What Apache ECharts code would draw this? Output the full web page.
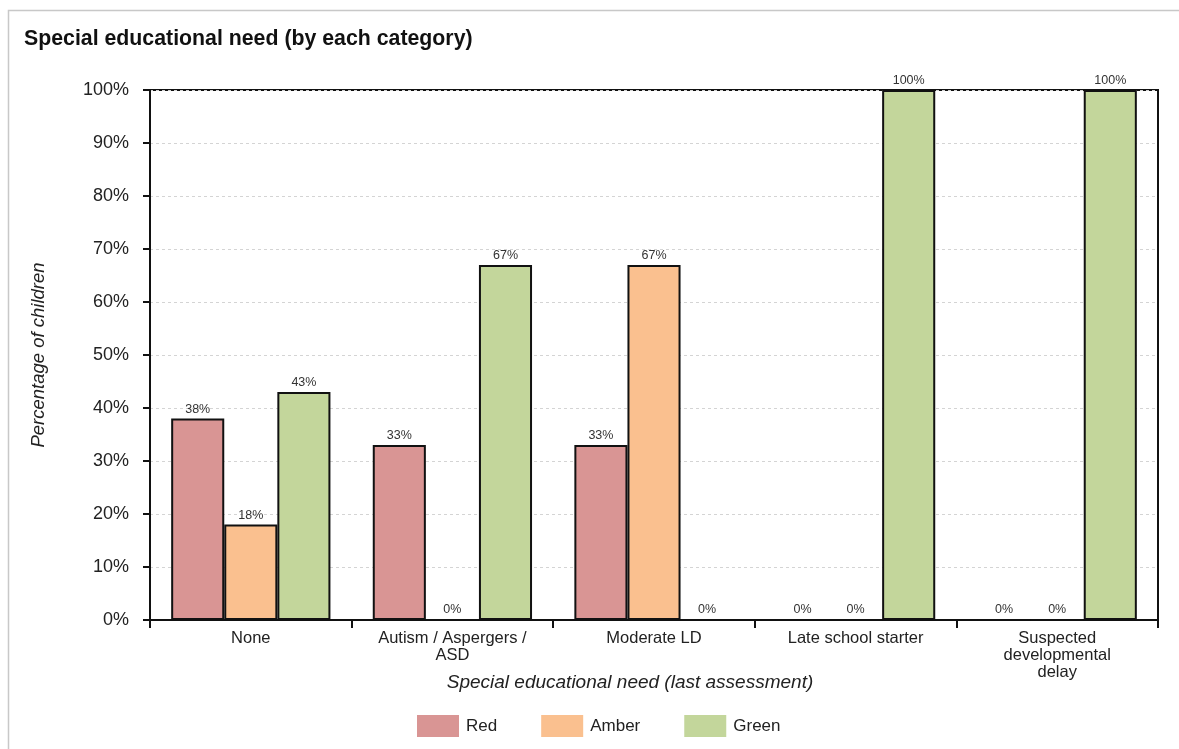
<!DOCTYPE html>
<html>
<head>
<meta charset="utf-8">
<script src="https://cdn.jsdelivr.net/npm/echarts@6/dist/echarts.min.js"></script>
<style>
  html, body { margin: 0; padding: 0; background: #fff; }
  #chart { width: 1179px; height: 749px; }
</style>
</head>
<body>
<div id="chart"></div>
<script>
// Special educational need categories and RAG percentages
const categories = [
  'None',
  'Autism / Aspergers /\nASD',
  'Moderate LD',
  'Late school starter',
  'Suspected\ndevelopmental\ndelay'
];
const redValues   = [38, 33, 33, 0, 0];
const amberValues = [18, 0, 67, 0, 0];
const greenValues = [43, 67, 0, 100, 100];
const yTicks = [0, 10, 20, 30, 40, 50, 60, 70, 80, 90, 100];

const FONT = '"Liberation Sans", Arial, sans-serif';

const chart = echarts.init(document.getElementById('chart'));

function barSeries(name, data, color) {
  return {
    name: name,
    type: 'bar',
    data: data,
    barGap: '0%',
    barCategoryGap: '21%',
    itemStyle: { color: color, borderColor: '#111', borderWidth: 2 },
    emphasis: { disabled: true },
    label: {
      show: true,
      position: 'top',
      distance: 3,
      formatter: p => p.value + '%',
      fontFamily: FONT,
      fontSize: 12.5,
      color: '#333'
    }
  };
}

chart.setOption({
  animation: false,
  backgroundColor: '#fff',
  textStyle: { fontFamily: FONT },
  graphic: [{
    type: 'rect',
    shape: { x: 8.5, y: 10.5, width: 1200, height: 800 },
    style: { fill: 'none', stroke: '#c8c8c8', lineWidth: 1.5 },
    silent: true,
    z: -10
  }],
  title: {
    text: 'Special educational need (by each category)',
    left: 19,
    top: 24,
    textStyle: { fontFamily: FONT, fontSize: 21.3, fontWeight: 'bold', color: '#111' }
  },
  legend: {
    bottom: 7,
    left: 412,
    itemWidth: 42,
    itemHeight: 22,
    itemGap: 44,
    icon: 'rect',
    selectedMode: false,
    itemStyle: { borderWidth: 0 },
    textStyle: { fontFamily: FONT, fontSize: 17, color: '#222', padding: [0, 0, 0, 2] },
    data: ['Red', 'Amber', 'Green']
  },
  grid: {
    left: 150,
    right: 21,
    top: 90,
    bottom: 129,
    show: true,
    borderColor: '#111',
    borderWidth: 2,
    containLabel: false
  },
  xAxis: {
    type: 'category',
    data: categories,
    name: 'Special educational need (last assessment)',
    nameLocation: 'middle',
    nameGap: 53,
    nameMoveOverlap: false,
    nameTextStyle: {
      fontFamily: FONT, fontSize: 19, fontStyle: 'italic', color: '#222',
      padding: [0, 48, 0, 0]
    },
    axisLine: { lineStyle: { color: '#111', width: 2 } },
    axisTick: { show: true, length: 8, lineStyle: { color: '#111', width: 2 } },
    axisLabel: {
      interval: 0,
      margin: 10,
      fontFamily: FONT,
      fontSize: 16.5,
      lineHeight: 17,
      color: '#222'
    }
  },
  yAxis: {
    type: 'value',
    min: yTicks[0],
    max: yTicks[yTicks.length - 1],
    interval: 10,
    name: 'Percentage of children',
    nameLocation: 'middle',
    nameGap: 102,
    nameMoveOverlap: false,
    nameTextStyle: { fontFamily: FONT, fontSize: 18.5, fontStyle: 'italic', color: '#222' },
    axisLine: { show: true, lineStyle: { color: '#111', width: 2 } },
    axisTick: { show: true, length: 7, lineStyle: { color: '#111', width: 2 } },
    axisLabel: {
      margin: 21,
      fontFamily: FONT,
      fontSize: 18,
      color: '#222',
      formatter: v => v + '%'
    },
    splitLine: { show: true, lineStyle: { color: '#d4d4d4', type: [3, 3], width: 1 } }
  },
  series: [
    barSeries('Red', redValues, '#d99594'),
    barSeries('Amber', amberValues, '#fac08f'),
    barSeries('Green', greenValues, '#c3d69b')
  ]
});
</script>
</body>
</html>
